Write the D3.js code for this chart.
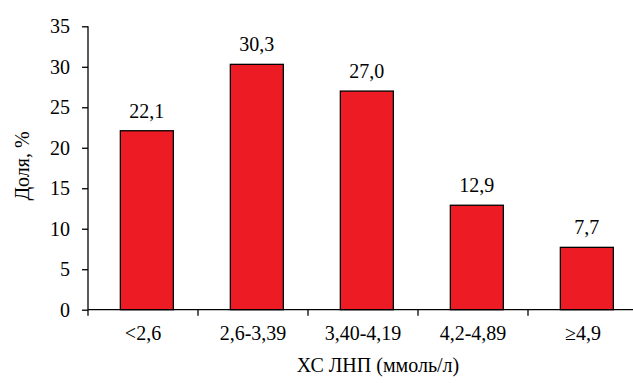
<!DOCTYPE html>
<html>
<head>
<meta charset="utf-8">
<script src="https://cdn.jsdelivr.net/npm/d3@7/dist/d3.min.js"></script>
<style>
  html, body { margin: 0; padding: 0; background: #fff; }
  svg { display: block; }
</style>
</head>
<body>
<svg id="chart" width="633" height="383"></svg>
<script>
// LDL-C distribution
const categories = ["<2,6", "2,6-3,39", "3,40-4,19", "4,2-4,89", "≥4,9"];
const values = [22.1, 30.3, 27.0, 12.9, 7.7];
const valueLabels = ["22,1", "30,3", "27,0", "12,9", "7,7"];
const yTicks = [0, 5, 10, 15, 20, 25, 30, 35];

const FONT = "Liberation Serif, Tinos, Times New Roman, serif";
const fontSize = 20;

const svg = d3.select("#chart");

const x = d3.scaleBand().domain(categories).range([88, 638]).padding(0);
const y = d3.scaleLinear().domain([0, 35]).range([309.7, 26.3]);

const barOffset = x.bandwidth() * 0.294;
const barWidth = x.bandwidth() * 0.482;

function label(sel) {
  return sel
    .attr("font-family", FONT)
    .attr("font-size", fontSize)
    .attr("fill", "#000");
}

// bars
svg.append("g").selectAll("rect")
  .data(values)
  .join("rect")
  .attr("x", (d, i) => x(categories[i]) + barOffset)
  .attr("y", d => y(d))
  .attr("width", barWidth)
  .attr("height", d => y(0) - y(d))
  .attr("fill", "#ed1c24")
  .attr("stroke", "#000")
  .attr("stroke-width", 1.3);

// value labels
svg.append("g").selectAll("text")
  .data(values)
  .join("text")
  .attr("x", (d, i) => x(categories[i]) + barOffset + barWidth / 2)
  .attr("y", d => y(d) - 13)
  .attr("text-anchor", "middle")
  .call(label)
  .text((d, i) => valueLabels[i]);

// y axis
const yAxis = svg.append("g")
  .attr("transform", "translate(88,0)")
  .call(d3.axisLeft(y).tickValues(yTicks).tickSize(6).tickPadding(12).tickFormat(d3.format("d")));
yAxis.attr("font-family", null).attr("font-size", null);
yAxis.select(".domain").attr("d", `M0,${y(35)}V${y(0)}`);
yAxis.selectAll("text").call(label);
yAxis.selectAll("line, path").attr("stroke", "#000").attr("stroke-width", 1.3);

// x axis: ticks at band boundaries
const xg = svg.append("g").attr("transform", `translate(0,${y(0)})`);
xg.append("line")
  .attr("x1", 88).attr("x2", 633)
  .attr("stroke", "#000").attr("stroke-width", 1.3);
xg.selectAll("line.tick")
  .data(categories)
  .join("line")
  .attr("class", "tick")
  .attr("x1", d => x(d)).attr("x2", d => x(d))
  .attr("y1", 0).attr("y2", 6)
  .attr("stroke", "#000").attr("stroke-width", 1.3);
xg.selectAll("text")
  .data(categories)
  .join("text")
  .attr("x", d => x(d) + x.bandwidth() / 2)
  .attr("y", 30.5)
  .attr("text-anchor", "middle")
  .call(label)
  .text(d => d);

// axis titles
svg.append("text")
  .attr("transform", "translate(29,166) rotate(-90)")
  .attr("text-anchor", "middle")
  .call(label)
  .text("Доля, %");

svg.append("text")
  .attr("x", 378)
  .attr("y", 372)
  .attr("text-anchor", "middle")
  .call(label)
  .text("ХС ЛНП (ммоль/л)");
</script>
</body>
</html>
